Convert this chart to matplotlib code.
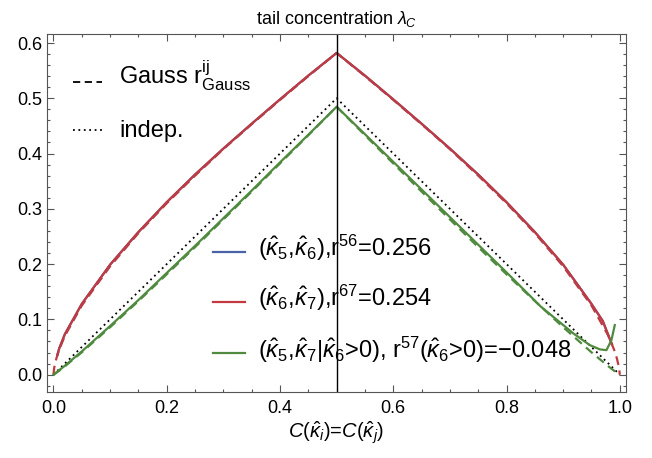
import matplotlib
matplotlib.use("Agg")
import matplotlib.pyplot as plt
from matplotlib.ticker import MultipleLocator

plt.rcParams['font.family'] = ['Liberation Sans', 'DejaVu Sans']
plt.rcParams['mathtext.fontset'] = 'custom'
plt.rcParams['mathtext.rm'] = 'Liberation Sans'
plt.rcParams['mathtext.it'] = 'Liberation Sans:italic'
plt.rcParams['mathtext.bf'] = 'Liberation Sans:bold'

# ===== DATA =====
# threshold C(k_i)=C(k_j)
u_grid = [0.0, 0.001, 0.005, 0.01, 0.02, 0.05, 0.1, 0.15, 0.2, 0.25, 0.3, 0.35,
          0.4, 0.45, 0.5, 0.55, 0.6, 0.65, 0.7, 0.75, 0.8, 0.85, 0.9, 0.95,
          0.98, 0.99, 0.995, 0.999, 1.0]

# Gauss copula, r = 0.256
gauss_56 = [0.0, 0.011, 0.029, 0.045, 0.070, 0.125, 0.196, 0.256, 0.310, 0.360,
            0.408, 0.453, 0.497, 0.540, 0.582, 0.540, 0.497, 0.453, 0.408, 0.360,
            0.310, 0.256, 0.196, 0.125, 0.070, 0.045, 0.029, 0.011, 0.0]

# Gauss copula, r = -0.048
gauss_57 = [0.0, 0.0006, 0.0033, 0.0070, 0.0149, 0.0404, 0.0858, 0.1331, 0.1815,
            0.2307, 0.2808, 0.3311, 0.3821, 0.4331, 0.4847, 0.4331, 0.3821, 0.3311,
            0.2808, 0.2307, 0.1815, 0.1331, 0.0858, 0.0404, 0.0149, 0.0070, 0.0033,
            0.0006, 0.0]

# independence
indep_u = [0.0, 0.5, 1.0]
indep = [0.0, 0.5, 0.0]

# empirical (k5,k6) and (k6,k7)
emp_u = [0.007, 0.01, 0.02, 0.05, 0.1, 0.15, 0.2, 0.25, 0.3, 0.35, 0.4, 0.45, 0.5,
         0.55, 0.6, 0.65, 0.7, 0.75, 0.8, 0.85, 0.9, 0.95, 0.97, 0.986]
emp_56 = [0.036, 0.047, 0.073, 0.128, 0.199, 0.258, 0.312, 0.362, 0.409, 0.454,
          0.498, 0.541, 0.582, 0.541, 0.498, 0.454, 0.409, 0.362, 0.312, 0.258,
          0.199, 0.128, 0.097, 0.055]
emp_67 = [0.036, 0.047, 0.073, 0.128, 0.199, 0.258, 0.312, 0.362, 0.409, 0.454,
          0.498, 0.541, 0.582, 0.541, 0.498, 0.454, 0.409, 0.362, 0.312, 0.258,
          0.199, 0.128, 0.097, 0.055]

# empirical (k5,k7 | k6>0)
emp57_u = [0.0, 0.01, 0.02, 0.05, 0.1, 0.15, 0.2, 0.25, 0.3, 0.35, 0.4, 0.45, 0.5,
           0.55, 0.6, 0.65, 0.7, 0.75, 0.8, 0.86, 0.918, 0.947, 0.965, 0.9765,
           0.9853, 0.9912]
emp_57 = [0.0, 0.008, 0.016, 0.042, 0.088, 0.135, 0.184, 0.233, 0.283, 0.333,
          0.384, 0.434, 0.4847, 0.435, 0.385, 0.335, 0.285, 0.235, 0.185, 0.1236,
          0.0746, 0.0534, 0.0456, 0.0443, 0.0624, 0.0896]

style_labels = [r'Gauss r$^{\rm ij}_{\rm Gauss}$', 'indep.']
pair_labels = [r'$(\hat{\kappa}_5$,$\hat{\kappa}_6)$,r$^{56}$=0.256',
               r'$(\hat{\kappa}_6$,$\hat{\kappa}_7)$,r$^{67}$=0.254',
               r'$(\hat{\kappa}_5$,$\hat{\kappa}_7|\hat{\kappa}_6$>0), '
               r'r$^{57}$($\hat{\kappa}_6$>0)=$-$0.048']

c_blue = '#4a62a8'
c_red = '#c23a40'
c_green = '#4f8a3f'
dash = (0, (4, 2.5))
dots = (0, (1, 2))

W, H = 652, 458
AX_L, AX_T, AX_W, AX_H = 46.7, 34.0, 579.3, 358.3

fig = plt.figure(figsize=(W / 100, H / 100), dpi=100)
ax = fig.add_axes([AX_L / W, 1 - (AX_T + AX_H) / H, AX_W / W, AX_H / H])


def px(x, y):
    # pixel position (from top-left of the image) -> axes fraction
    return (x - AX_L) / AX_W, 1 - (y - AX_T) / AX_H


ax.plot(indep_u, indep, color='black', linestyle=dots, linewidth=1.3)
ax.plot(u_grid, gauss_57, color=c_green, linestyle=dash, linewidth=1.6)
ax.plot(u_grid, gauss_56, color=c_red, linestyle=dash, linewidth=1.6)
ax.plot(emp_u, emp_56, color=c_blue, linewidth=1.6)
ax.plot(emp_u, emp_67, color=c_red, linewidth=1.6)
ax.plot(emp57_u, emp_57, color=c_green, linewidth=1.6)
ax.axvline(0.5, color='black', linewidth=1.0)

ax.set_xlim(-0.012, 1.011)
ax.set_ylim(-0.032, 0.6163)
ax.xaxis.set_major_locator(MultipleLocator(0.2))
ax.xaxis.set_minor_locator(MultipleLocator(0.05))
ax.yaxis.set_major_locator(MultipleLocator(0.1))
ax.yaxis.set_minor_locator(MultipleLocator(0.02))
ax.tick_params(which='both', direction='in', top=True, right=True,
               color='#555555', labelsize=13)
ax.tick_params(which='major', length=4.8, width=0.8)
ax.tick_params(which='minor', length=2.4, width=0.8)
ax.tick_params(axis='x', pad=5.5)
ax.tick_params(axis='y', pad=3)
for s in ax.spines.values():
    s.set_color('#555555')
    s.set_linewidth(0.8)

ax.set_title(r'tail concentration $\lambda_C$', fontsize=13, pad=7)
ax.set_xlabel(r'$C(\hat{\kappa}_i)$=$C(\hat{\kappa}_j)$', fontsize=14.5, labelpad=2)

# line-style key, upper left
for (hy, ty), ls, lab in zip([(81.7, 84.3), (130.0, 136.7)], [dash, dots], style_labels):
    x0, y0 = px(73.3, hy)
    x1, _ = px(101.7, hy)
    ax.plot([x0, x1], [y0, y0], transform=ax.transAxes, color='black',
            linestyle=ls, linewidth=1.3, clip_on=False)
    tx, tyf = px(119, ty)
    ax.text(tx, tyf, lab, transform=ax.transAxes, fontsize=17,
            ha='left', va='baseline')

# pair key, lower middle
for (hy, ty), col, lab in zip([(251.7, 255.7), (301.7, 306.0), (353.3, 357.6)],
                              [c_blue, c_red, c_green], pair_labels):
    x0, y0 = px(213, hy)
    x1, _ = px(245, hy)
    ax.plot([x0, x1], [y0, y0], transform=ax.transAxes, color=col,
            linewidth=1.6, clip_on=False)
    tx, tyf = px(258, ty)
    ax.text(tx, tyf, lab, transform=ax.transAxes, fontsize=17,
            ha='left', va='baseline')

fig.savefig('out.png', dpi=100)
